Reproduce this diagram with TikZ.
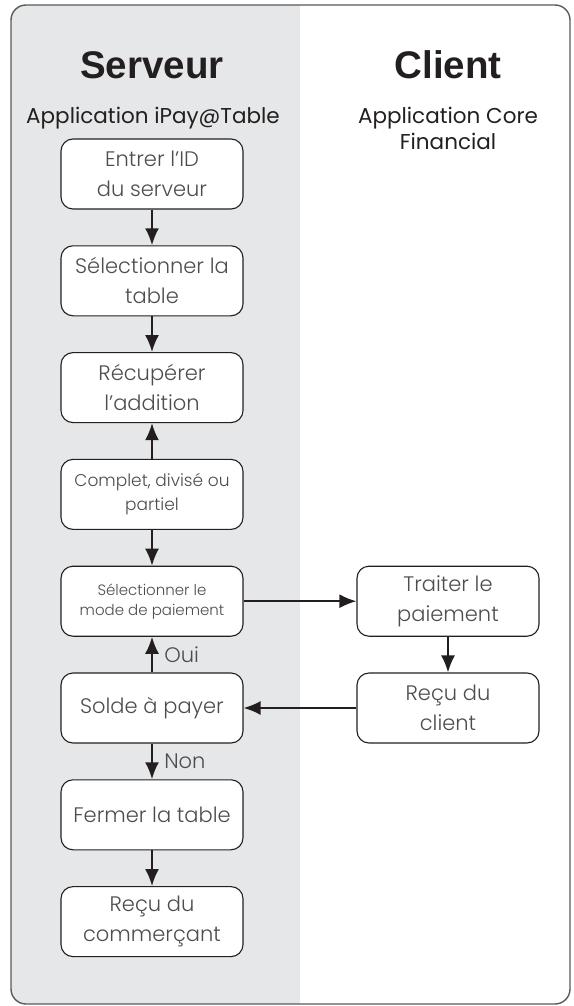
\documentclass[tikz,border=0pt]{standalone}
\usepackage{fontspec}
\setmainfont{Poppins}[UprightFont = * Light, BoldFont = * Medium]
\newfontfamily\appfont{Poppins}
\newfontfamily\titlefont{Liberation Sans}
\usetikzlibrary{positioning,arrows.meta}
\definecolor{panel}{HTML}{E6E7E8}
\definecolor{boxtext}{HTML}{4D4D4F}
\definecolor{ink}{HTML}{231F20}

\begin{document}
\begin{tikzpicture}[x=1pt,y=-1pt,node distance=106.8pt,on grid,
    action/.style={rectangle, rounded corners=12pt, draw=ink, line width=1.1pt, fill=white,
      minimum width=182pt, minimum height=70pt, align=center, text=boxtext, inner sep=2pt},
    big/.style={font=\fontsize{21}{30}\selectfont},
    mid/.style={font=\fontsize{17}{24}\selectfont},
    small/.style={font=\fontsize{15}{20}\selectfont},
    flow/.style={-{Latex[length=17pt,width=14pt]}, line width=2pt, draw=ink},
    lbl/.style={right, xshift=8pt, text=boxtext, font=\fontsize{21}{24}\selectfont},
    titre/.style={anchor=base, text=ink, font=\titlefont\bfseries\fontsize{38.5}{40}\selectfont},
    appli/.style={align=center, text=ink, font=\appfont\fontsize{21.5}{26}\selectfont}
  ]

\useasboundingbox (0,0) rectangle (573,1006);

% panneau serveur
\begin{scope}
  \clip[rounded corners=15pt] (11,5) rectangle (570,1004);
  \fill[panel] (11,5) rectangle (300,1004);
\end{scope}
\draw[draw=black!65, line width=1.4pt, rounded corners=15pt] (11,5) rectangle (570,1004);

\node[titre] (t_s) at (152,79) {Serveur};
\node[titre] (t_c) at (448,79) {Client};
\node[appli, anchor=base] (a_s) at (153,124) {Application iPay@Table};
\node[appli, anchor=north] (a_c) at (448,104) {Application Core\\Financial};

% serveur
\node[action,big] (s_0) at (152,174) {Entrer l'ID\\du serveur};
\node[action,big] (s_1) [below=of s_0] {Sélectionner la\\table};
\node[action,big] (s_2) [below=of s_1] {Récupérer\\l'addition};
\node[action,mid] (s_3) [below=of s_2] {Complet, divisé ou\\partiel};
\node[action,small] (s_4) [below=of s_3] {Sélectionner le\\mode de paiement};
\node[action,big] (s_5) [below=of s_4] {Solde à payer};
\node[action,big] (s_6) [below=of s_5] {Fermer la table};
\node[action,big] (s_7) [below=of s_6] {Reçu du\\commerçant};

% client
\node[action,big] (c_0) [right=296pt of s_4] {Traiter le\\paiement};
\node[action,big] (c_1) [below=of c_0] {Reçu du\\client};

\draw[flow] (s_0) -- (s_1);
\draw[flow] (s_1) -- (s_2);
\draw[flow] (s_3) -- (s_2);
\draw[flow] (s_3) -- (s_4);
\draw[flow] (s_4) -- (c_0);
\draw[flow] (c_0) -- (c_1);
\draw[flow] (c_1) -- (s_5);
\draw[flow] (s_5) -- (s_4) node[midway,lbl] {Oui};
\draw[flow] (s_5) -- (s_6) node[midway,lbl] {Non};
\draw[flow] (s_6) -- (s_7);
\end{tikzpicture}
\end{document}
